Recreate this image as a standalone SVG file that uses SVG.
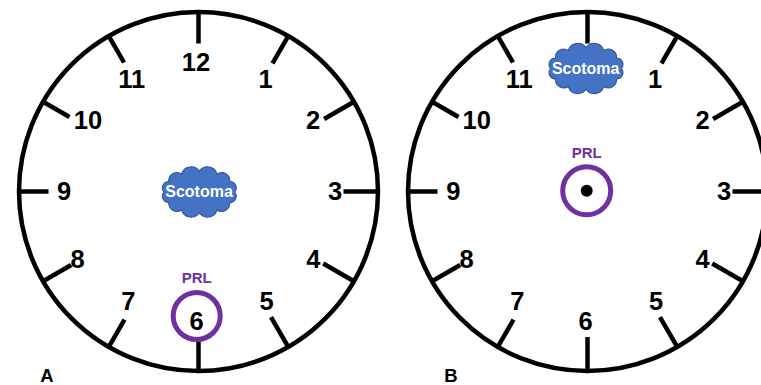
<svg xmlns="http://www.w3.org/2000/svg" xmlns:xlink="http://www.w3.org/1999/xlink" width="761" height="385" viewBox="0 0 761 385">
  <style>
    .dial { fill: none; stroke: #000; stroke-width: 4.5; }
    .tick { stroke: #000; stroke-width: 4.5; stroke-linecap: butt; }
    .num { font-family: "Liberation Sans", Arial, sans-serif; font-weight: bold; font-size: 25.5px; fill: #000; text-anchor: middle; }
    .cloud { fill: #4472C4; stroke: #2F528F; stroke-width: 1; }
    .cloudtxt { font-family: "Liberation Sans", Arial, sans-serif; font-weight: bold; font-size: 16px; fill: #fff; text-anchor: middle; }
    .prl { font-family: "Liberation Sans", Arial, sans-serif; font-weight: bold; font-size: 15px; fill: #7030A0; text-anchor: middle; }
    .ring { fill: #fff; stroke: #7030A0; stroke-width: 5; }
    .panel { font-family: "Liberation Sans", Arial, sans-serif; font-weight: bold; font-size: 18.5px; fill: #000; text-anchor: middle; }
  </style>
  <defs>
    <path id="cloudShape" d="M34,0 A6,6 0 0,1 29.4,10 A8,8 0 0,1 17,17.3 A9.5,9.5 0 0,1 0,20 A9.5,9.5 0 0,1 -17,17.3 A8,8 0 0,1 -29.4,10 A6,6 0 0,1 -34,0 A6,6 0 0,1 -29.4,-10 A8,8 0 0,1 -17,-17.3 A9.5,9.5 0 0,1 0,-20 A9.5,9.5 0 0,1 17,-17.3 A8,8 0 0,1 29.4,-10 A6,6 0 0,1 34,0 Z"/>
  </defs>
  <rect width="761" height="385" fill="#fff"/>

  <!-- Clock A -->
  <g id="clockA">
    <circle class="dial" cx="198.5" cy="191.5" r="179.5"/>
    <g id="ticksA">
      <line class="tick" x1="198.5" y1="11.5" x2="198.5" y2="43.5"/>
      <line class="tick" x1="288.5" y1="35.6" x2="272.5" y2="63.3"/>
      <line class="tick" x1="354.4" y1="101.5" x2="324.1" y2="119"/>
      <line class="tick" x1="378.5" y1="191.5" x2="343.5" y2="191.5"/>
      <line class="tick" x1="354.4" y1="281.5" x2="323.2" y2="263.5"/>
      <line class="tick" x1="288.5" y1="347.4" x2="271" y2="317.1"/>
      <line class="tick" x1="198.5" y1="371.5" x2="198.5" y2="341.5"/>
      <line class="tick" x1="108.5" y1="347.4" x2="124.5" y2="319.7"/>
      <line class="tick" x1="42.6" y1="281.5" x2="71.2" y2="265"/>
      <line class="tick" x1="18.5" y1="191.5" x2="48.5" y2="191.5"/>
      <line class="tick" x1="42.6" y1="101.5" x2="69.5" y2="117"/>
      <line class="tick" x1="108.5" y1="35.6" x2="124" y2="62.5"/>
    </g>
    <g id="numbersA">
      <text class="num" x="196" y="71">12</text>
      <text class="num" x="265.7" y="88">1</text>
      <text class="num" x="313" y="129">2</text>
      <text class="num" x="335" y="200">3</text>
      <text class="num" x="313.3" y="268">4</text>
      <text class="num" x="266.7" y="310">5</text>
      <text class="num" x="128.3" y="310">7</text>
      <text class="num" x="77.7" y="268">8</text>
      <text class="num" x="64" y="200">9</text>
      <text class="num" x="88" y="129">10</text>
      <text class="num" x="131.7" y="88">11</text>
    </g>
  </g>
  <g id="scotomaA">
    <use xlink:href="#cloudShape" href="#cloudShape" class="cloud" transform="translate(199.3,192) scale(1.04)"/>
    <text class="cloudtxt" x="199" y="197">Scotoma</text>
  </g>
  <g id="prlA">
    <text class="prl" x="196.7" y="283">PRL</text>
    <circle class="ring" cx="196.7" cy="316" r="23.5"/>
    <text class="num" x="196.7" y="330">6</text>
  </g>
  <text id="labelA" class="panel" x="47" y="382">A</text>

  <!-- Clock B -->
  <g id="clockB">
    <circle class="dial" cx="587.5" cy="191.5" r="179.5"/>
    <g id="ticksB">
      <line class="tick" x1="587.5" y1="11.5" x2="587.5" y2="43.5"/>
      <line class="tick" x1="677.5" y1="35.6" x2="661.5" y2="63.3"/>
      <line class="tick" x1="743.4" y1="101.5" x2="713.1" y2="119"/>
      <line class="tick" x1="767.5" y1="191.5" x2="732.5" y2="191.5"/>
      <line class="tick" x1="743.4" y1="281.5" x2="712.2" y2="263.5"/>
      <line class="tick" x1="677.5" y1="347.4" x2="660" y2="317.1"/>
      <line class="tick" x1="587.5" y1="371.5" x2="587.5" y2="337"/>
      <line class="tick" x1="497.5" y1="347.4" x2="513.5" y2="319.7"/>
      <line class="tick" x1="431.6" y1="281.5" x2="460.2" y2="265"/>
      <line class="tick" x1="407.5" y1="191.5" x2="437.5" y2="191.5"/>
      <line class="tick" x1="431.6" y1="101.5" x2="458.5" y2="117"/>
      <line class="tick" x1="497.5" y1="35.6" x2="513" y2="62.5"/>
    </g>
    <g id="numbersB">
      <text class="num" x="655" y="88">1</text>
      <text class="num" x="702.7" y="129">2</text>
      <text class="num" x="724" y="200">3</text>
      <text class="num" x="702.7" y="268">4</text>
      <text class="num" x="656" y="310">5</text>
      <text class="num" x="585.7" y="330">6</text>
      <text class="num" x="517.3" y="310">7</text>
      <text class="num" x="466.7" y="268">8</text>
      <text class="num" x="453.3" y="200">9</text>
      <text class="num" x="476.7" y="129">10</text>
      <text class="num" x="519.3" y="88">11</text>
    </g>
  </g>
  <g id="scotomaB">
    <use xlink:href="#cloudShape" href="#cloudShape" class="cloud" transform="translate(586,68.5) scale(1.04)"/>
    <text class="cloudtxt" x="585.7" y="74">Scotoma</text>
  </g>
  <g id="prlB">
    <text class="prl" x="586.7" y="158">PRL</text>
    <circle class="ring" cx="586.7" cy="190.7" r="24"/>
    <circle cx="586.7" cy="190.7" r="6" fill="#000"/>
  </g>
  <text id="labelB" class="panel" x="451" y="382">B</text>
</svg>
